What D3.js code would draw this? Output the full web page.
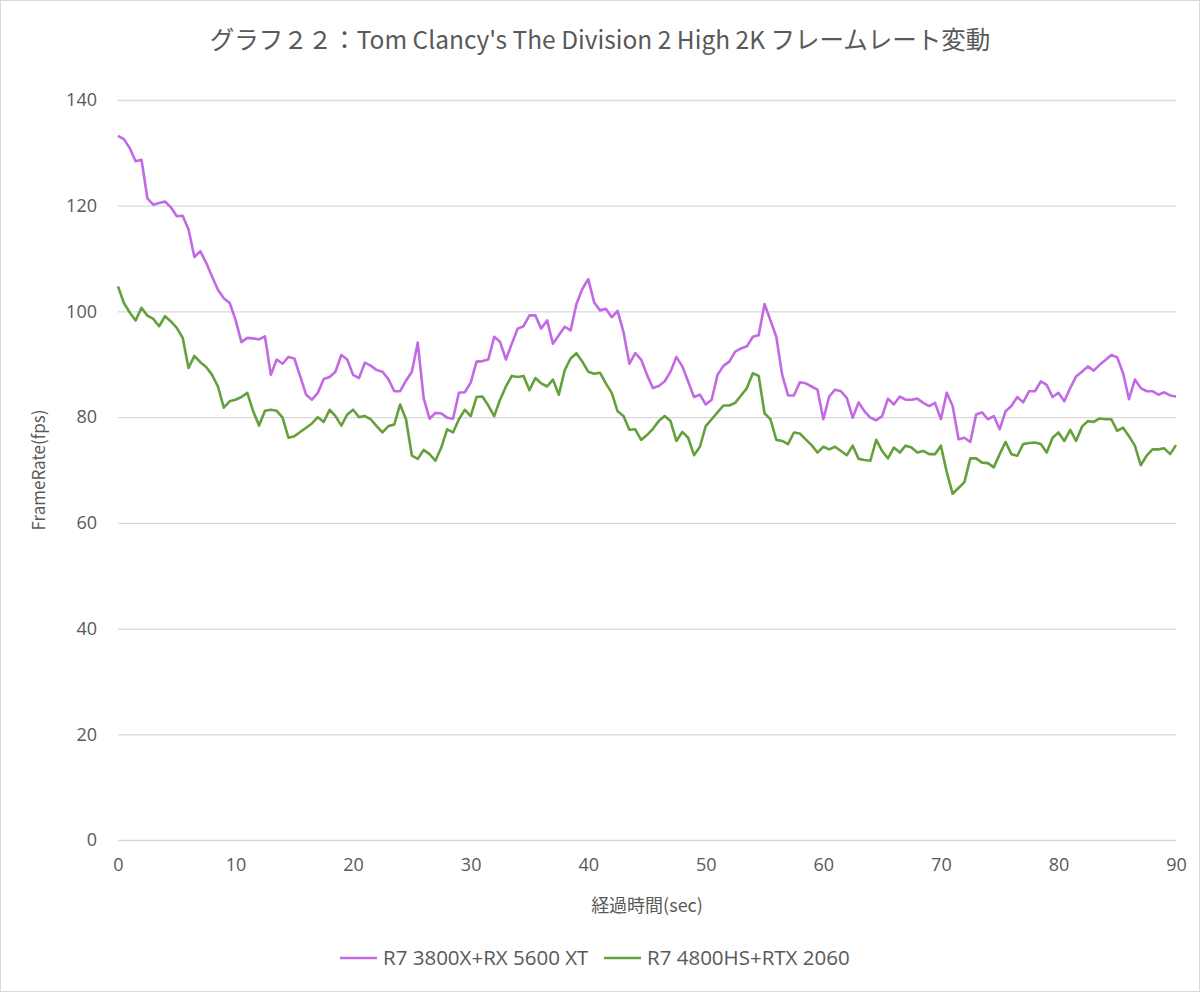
<!DOCTYPE html>
<html>
<head>
<meta charset="utf-8">
<script src="https://cdn.jsdelivr.net/npm/d3@7"></script>
<style>
  body { margin: 0; background: #fff; }
  svg text { font-family: "Open Sans", "Noto Sans", sans-serif; fill: #595959; }
  svg text.jp { font-family: "Noto Sans CJK JP", "Noto Sans", sans-serif; }
</style>
</head>
<body>
<svg id="chart" width="1200" height="992"></svg>
<script>
// frame rate samples, one every 0.5 sec from 0 to 90
var seriesNames = ["R7 3800X+RX 5600 XT", "R7 4800HS+RTX 2060"];
var seriesColors = ["#c26ae4", "#64a03b"];

var fps3800x = [
    133.2,132.6,130.9,128.4,128.7,121.4,120.2,120.5,120.8,119.7,
    118,118.1,115.5,110.3,111.4,109.2,106.6,104.1,102.5,101.6,
    98.4,94.2,95,94.9,94.7,95.3,88,90.9,90.1,91.4,
    91.1,87.7,84.25,83.3,84.6,87.2,87.6,88.6,91.75,90.9,
    88,87.4,90.3,89.75,88.9,88.6,87.2,84.9,84.9,86.9,
    88.6,94.1,83.6,79.7,80.8,80.7,79.9,79.7,84.6,84.7,
    86.5,90.5,90.6,90.9,95.2,94.25,90.9,93.9,96.75,97.2,
    99.25,99.25,96.75,98.3,93.9,95.5,97.1,96.4,101.4,104.25,
    106.1,101.75,100.2,100.5,98.9,100.1,96.1,90.1,92.1,90.9,
    88,85.5,85.9,86.75,88.6,91.4,89.6,86.75,83.8,84.25,
    82.4,83.3,88,89.7,90.5,92.4,93,93.4,95.2,95.5,
    101.4,98.3,95.2,88,84.1,84.1,86.6,86.4,85.8,85.2,
    79.6,83.9,85.2,84.9,83.6,79.9,82.8,81.1,79.9,79.4,
    80.2,83.5,82.4,83.9,83.3,83.3,83.5,82.7,82.1,82.7,
    79.6,84.6,82.1,75.8,76.1,75.3,80.5,80.9,79.6,80.2,
    77.7,81.1,82.1,83.8,82.8,84.9,84.9,86.75,86.1,83.8,
    84.6,83,85.5,87.7,88.6,89.6,88.8,89.9,90.8,91.75,
    91.3,88.3,83.4,87.1,85.5,84.9,84.9,84.25,84.7,84.1,
    83.9
];

var fps4800hs = [
    104.75,101.6,99.8,98.3,100.7,99.2,98.6,97.2,99.1,98.1,
    96.9,95,89.3,91.6,90.4,89.5,88,85.8,81.8,83,
    83.3,83.8,84.6,81.1,78.4,81.2,81.4,81.2,79.9,76.1,
    76.4,77.2,78,78.8,80,79.1,81.4,80.2,78.4,80.5,
    81.4,80,80.2,79.6,78.3,77.1,78.3,78.6,82.4,79.6,
    72.7,72.1,73.8,73,71.75,74.25,77.7,77.1,79.6,81.4,
    80.2,83.8,83.9,82.2,80.2,83.3,85.8,87.8,87.6,87.8,
    85.1,87.4,86.4,85.8,87.1,84.25,88.9,91.1,92.1,90.5,
    88.6,88.2,88.4,86.4,84.6,81.1,80.2,77.6,77.7,75.7,
    76.6,77.8,79.25,80.2,79.25,75.5,77.2,76.1,72.8,74.4,
    78.3,79.6,80.9,82.2,82.2,82.7,84.1,85.5,88.3,87.8,
    80.7,79.6,75.7,75.5,74.9,77.1,76.9,75.8,74.7,73.3,
    74.4,73.9,74.4,73.6,72.8,74.6,72.1,71.9,71.75,75.7,
    73.6,72.2,74.25,73.3,74.6,74.25,73.3,73.6,73,73,
    74.6,69.6,65.5,66.6,67.7,72.2,72.2,71.4,71.3,70.5,
    73,75.3,73,72.7,74.9,75.1,75.2,74.9,73.3,76.1,
    77.1,75.5,77.6,75.5,78.2,79.25,79.1,79.75,79.6,79.6,
    77.4,78,76.4,74.6,70.9,72.7,73.9,73.9,74.1,73,
    74.7
];

var yTicks = [0, 20, 40, 60, 80, 100, 120, 140];
var xTicks = [0, 10, 20, 30, 40, 50, 60, 70, 80, 90];

(function () {
    var svg = d3.select("#chart");
    var W = 1200, H = 992;
    var plotLeft = 118, plotRight = 1176, plotTop = 100, plotBottom = 840;

    // outer border
    svg.append("rect")
        .attr("x", 0.5).attr("y", 0.5)
        .attr("width", W - 1).attr("height", H - 1)
        .attr("fill", "#fff")
        .attr("stroke", "#d9d9d9");

    var x = d3.scaleLinear().domain([0, 90]).range([plotLeft, plotRight]);
    var y = d3.scaleLinear().domain([0, 140]).range([plotBottom, plotTop]);

    // grid + y labels
    var yAxis = d3.axisLeft(y).tickValues(yTicks).tickSize(-(plotRight - plotLeft)).tickPadding(21);
    var gy = svg.append("g").attr("transform", "translate(" + plotLeft + ",0)").call(yAxis);
    gy.select(".domain").remove();
    gy.selectAll(".tick line").attr("stroke", "#d9d9d9").attr("stroke-width", 1.3);
    gy.selectAll(".tick text").style("font-size", "18px").style("font-family", null);

    var xAxis = d3.axisBottom(x).tickValues(xTicks).tickSize(0).tickPadding(18);
    var gx = svg.append("g").attr("transform", "translate(0," + plotBottom + ")").call(xAxis);
    gx.select(".domain").remove();
    gx.selectAll(".tick text").style("font-size", "18px").style("font-family", null);

    // lines
    var series = [fps3800x, fps4800hs];
    var line = d3.line()
        .x(function (d, i) { return x(i * 0.5); })
        .y(function (d) { return y(d); });

    series.forEach(function (vals, k) {
        svg.append("path")
            .datum(vals)
            .attr("fill", "none")
            .attr("stroke", seriesColors[k])
            .attr("stroke-width", 2.6)
            .attr("stroke-linejoin", "round")
            .attr("d", line);
    });

    // title + axis titles
    svg.append("text")
        .attr("class", "jp")
        .attr("x", 600).attr("y", 49)
        .attr("text-anchor", "middle")
        .style("font-size", "24.5px")
        .text("グラフ２２：Tom Clancy's The Division 2 High 2K フレームレート変動");

    svg.append("text")
        .attr("class", "jp")
        .attr("x", (plotLeft + plotRight) / 2).attr("y", 912)
        .attr("text-anchor", "middle")
        .style("font-size", "18px")
        .text("経過時間(sec)");

    svg.append("text")
        .attr("class", "jp")
        .attr("transform", "translate(45," + ((plotTop + plotBottom) / 2) + ") rotate(-90)")
        .attr("text-anchor", "middle")
        .style("font-size", "17px")
        .text("FrameRate(fps)");

    // legend
    var legendX = [340, 604];
    seriesNames.forEach(function (name, k) {
        var g = svg.append("g").attr("transform", "translate(" + legendX[k] + ",958)");
        g.append("line")
            .attr("x1", 0).attr("x2", 37)
            .attr("stroke", seriesColors[k])
            .attr("stroke-width", 2.6);
        g.append("text")
            .attr("x", 43).attr("y", 7)
            .style("font-size", "20.5px")
            .text(name);
    });
})();
</script>
</body>
</html>
